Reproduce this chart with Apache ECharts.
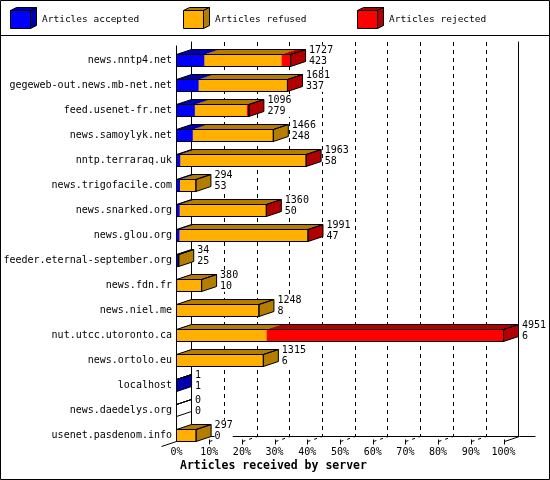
<!DOCTYPE html>
<html>
<head>
<meta charset="utf-8">
<title>Articles received by server</title>
<script src="https://cdn.jsdelivr.net/npm/echarts@6/dist/echarts.min.js"></script>
<style>
  html, body { margin: 0; padding: 0; background: #fff; }
  #chart-container { width: 550px; height: 480px; }
</style>
</head>
<body>
<div id="chart-container"></div>
<script>
// servers, top to bottom
var servers = [
  "news.nntp4.net",
  "gegeweb-out.news.mb-net.net",
  "feed.usenet-fr.net",
  "news.samoylyk.net",
  "nntp.terraraq.uk",
  "news.trigofacile.com",
  "news.snarked.org",
  "news.glou.org",
  "feeder.eternal-september.org",
  "news.fdn.fr",
  "news.niel.me",
  "nut.utcc.utoronto.ca",
  "news.ortolo.eu",
  "localhost",
  "news.daedelys.org",
  "usenet.pasdenom.info"
];
var totals = [1727, 1681, 1096, 1466, 1963, 294, 1360, 1991, 34, 380, 1248, 4951, 1315, 1, 0, 297];
var accepted = [423, 337, 279, 248, 58, 53, 50, 47, 25, 10, 8, 6, 6, 1, 0, 0];
// rejected counts estimated from the red part of each bar
var rejected = [135, 12, 30, 0, 3, 0, 3, 3, 0, 0, 0, 3586, 0, 0, 0, 0];
var refused = totals.map(function (t, i) { return t - accepted[i] - rejected[i]; });
var percentTicks = [0, 10, 20, 30, 40, 50, 60, 70, 80, 90, 100];

var FONT = "DejaVu Sans Mono";
var DX = 15, DY = 5; // depth of the 3d boxes
var COLORS = {
  accepted: ["#0000ff", "#0000b0"],
  refused: ["#ffb000", "#b47d00"],
  rejected: ["#ff0000", "#b00000"]
};

var maxTotal = Math.max.apply(null, totals);
function pct(v) { return v / maxTotal * 100; }

function barHeight(api) { return Math.round(api.size([0, 1])[1] * 0.48); }

function boxFaces(x0, x1, y, h) {
  var yt = y - h / 2, yb = y + h / 2;
  return {
    front: [[x0, yt], [x1, yt], [x1, yb], [x0, yb]],
    top: [[x0, yt], [x1, yt], [x1 + DX, yt - DY], [x0 + DX, yt - DY]],
    side: [[x1, yt], [x1, yb], [x1 + DX, yb - DY], [x1 + DX, yt - DY]]
  };
}

function segmentSeries(name, starts, values, colors) {
  var data = [];
  values.forEach(function (v, i) {
    if (v > 0) data.push([pct(starts[i]), pct(starts[i] + v), i]);
  });
  return {
    name: name,
    type: "custom",
    xAxisIndex: 0,
    yAxisIndex: 0,
    encode: { x: [0, 1], y: 2 },
    data: data,
    renderItem: function (params, api) {
      var a = api.coord([api.value(0), api.value(2)]);
      var b = api.coord([api.value(1), api.value(2)]);
      var f = boxFaces(a[0], b[0], a[1], barHeight(api));
      return {
        type: "group",
        children: [
          { type: "polygon", shape: { points: f.top }, style: { fill: colors[1] } },
          { type: "polygon", shape: { points: f.side }, style: { fill: colors[1] } },
          { type: "polygon", shape: { points: f.front }, style: { fill: colors[0] } }
        ]
      };
    }
  };
}

var zeros = servers.map(function () { return 0; });
var afterAccepted = accepted.slice();
var afterRefused = accepted.map(function (a, i) { return a + refused[i]; });

var labelData = totals.map(function (t, i) { return [pct(t), i, t, accepted[i]]; });

var chartDom = document.getElementById("chart-container");
var myChart = echarts.init(chartDom);

var option = {
  animation: false,
  backgroundColor: "#fff",
  title: {
    text: "Articles received by server",
    left: 180,
    top: 460,
    padding: 0,
    textStyle: { fontFamily: FONT, fontWeight: "bold", fontSize: 11.5, color: "#000" }
  },
  grid: [
    { left: 176.5, right: 46.5, top: 48, bottom: 32 },
    { left: 191.5, right: 31.5, top: 42, bottom: 43.5 }
  ],
  xAxis: [
    {
      gridIndex: 0,
      type: "value",
      min: 0,
      max: 100,
      interval: 10,
      axisLine: { show: false },
      axisTick: { show: false },
      splitLine: { show: false },
      axisLabel: {
        margin: -1,
        formatter: "{value}%",
        fontFamily: FONT,
        fontSize: 10,
        color: "#000"
      }
    },
    {
      gridIndex: 1,
      type: "value",
      min: 0,
      max: 100,
      interval: 10,
      axisLine: { show: true, lineStyle: { color: "#000", width: 1 } },
      axisTick: { show: false },
      axisLabel: { show: false },
      splitLine: { show: true, lineStyle: { color: "#000", width: 1, type: [4, 4] } }
    }
  ],
  yAxis: [
    {
      gridIndex: 0,
      type: "category",
      data: servers,
      inverse: true,
      axisLine: { show: false },
      axisTick: { show: false },
      axisLabel: { margin: 4.5, fontFamily: FONT, fontSize: 10, color: "#000" }
    },
    {
      gridIndex: 1,
      type: "value",
      min: 0,
      max: 1,
      axisLine: { show: true, lineStyle: { color: "#000", width: 1 } },
      axisTick: { show: false },
      axisLabel: { show: false },
      splitLine: { show: false }
    },
    {
      gridIndex: 1,
      type: "value",
      position: "right",
      min: 0,
      max: 1,
      axisLine: { show: true, lineStyle: { color: "#000", width: 1 } },
      axisTick: { show: false },
      axisLabel: { show: false },
      splitLine: { show: false }
    }
  ],
  series: [
    segmentSeries("Articles accepted", zeros, accepted, COLORS.accepted),
    segmentSeries("Articles refused", afterAccepted, refused, COLORS.refused),
    segmentSeries("Articles rejected", afterRefused, rejected, COLORS.rejected),
    {
      name: "totals",
      type: "custom",
      xAxisIndex: 0,
      yAxisIndex: 0,
      encode: { x: 0, y: 1 },
      data: labelData,
      renderItem: function (params, api) {
        var a = api.coord([0, api.value(1)]);
        var b = api.coord([api.value(0), api.value(1)]);
        var f = boxFaces(a[0], b[0], a[1], barHeight(api));
        var line = { fill: "none", stroke: "#000", lineWidth: 1 };
        return {
          type: "group",
          children: [
            { type: "polygon", shape: { points: f.top }, style: line },
            { type: "polygon", shape: { points: f.side }, style: line },
            { type: "polygon", shape: { points: f.front }, style: line },
            {
              type: "text",
              x: b[0] + DX + 3.5,
              y: a[1] - 4.7,
              style: {
                text: api.value(2) + "\n" + api.value(3),
                fontFamily: FONT,
                fontSize: 10,
                lineHeight: 11,
                fill: "#000",
                verticalAlign: "middle",
                backgroundColor: "#fff"
              }
            }
          ]
        };
      }
    }
  ]
};

option && myChart.setOption(option);

// frame, legend cubes and floor of the 3d box
function legendCube(x, label, colors) {
  var x0 = x + 0.5, x1 = x0 + 20, yt = 10.5, yb = 28.5, d = 6, e = 3;
  var s = { stroke: "#000", lineWidth: 1 };
  return [
    { type: "polygon", shape: { points: [[x0, yt], [x1, yt], [x1 + d, yt - e], [x0 + d, yt - e]] }, style: Object.assign({ fill: colors[1] }, s) },
    { type: "polygon", shape: { points: [[x1, yt], [x1, yb], [x1 + d, yb - e], [x1 + d, yt - e]] }, style: Object.assign({ fill: colors[1] }, s) },
    { type: "rect", shape: { x: x0, y: yt, width: 20, height: 18 }, style: Object.assign({ fill: colors[0] }, s) },
    { type: "text", x: x + 32, y: 20, style: { text: label, fontFamily: FONT, fontSize: 9.5, fill: "#000", verticalAlign: "middle" } }
  ];
}

function drawDecor() {
  var last = servers.length - 1;
  var p0 = myChart.convertToPixel({ xAxisIndex: 0, yAxisIndex: 0 }, [0, last]);
  var floorY = p0[1] + 6;
  var first = myChart.convertToPixel({ xAxisIndex: 0, yAxisIndex: 0 }, [0, 0]);
  var ln = { stroke: "#000", lineWidth: 1 };
  var els = [
    { type: "rect", shape: { x: 0.5, y: 0.5, width: 549, height: 479 }, style: { fill: "none", stroke: "#000", lineWidth: 1 } },
    { type: "line", shape: { x1: 0, y1: 35.5, x2: 550, y2: 35.5 }, style: ln },
    { type: "line", shape: { x1: p0[0], y1: first[1] - 15, x2: p0[0], y2: floorY }, style: ln },
    { type: "line", shape: { x1: p0[0] - DX, y1: floorY + DY, x2: p0[0] + DX, y2: floorY - DY }, style: ln }
  ];
  percentTicks.forEach(function (t) {
    var x = myChart.convertToPixel({ xAxisIndex: 0, yAxisIndex: 0 }, [t, last])[0];
    x = Math.round(x) + 0.5;
    if (t === 0) return;
    els.push({ type: "line", shape: { x1: x, y1: floorY - 2, x2: x, y2: floorY + 3 }, style: ln });
    if (t === 100) {
      els.push({ type: "line", shape: { x1: x, y1: floorY, x2: x + DX, y2: floorY - DY }, style: ln });
      els.push({ type: "line", shape: { x1: x + DX, y1: floorY - DY, x2: x + DX + 16, y2: floorY - DY }, style: ln });
    } else {
      els.push({ type: "line", shape: { x1: x, y1: floorY, x2: x + DX, y2: floorY - DY }, style: { stroke: "#000", lineWidth: 1, lineDash: [3, 4] } });
    }
  });
  els = els.concat(
    legendCube(10, "Articles accepted", COLORS.accepted),
    legendCube(183, "Articles refused", COLORS.refused),
    legendCube(357, "Articles rejected", COLORS.rejected)
  );
  myChart.setOption({ graphic: { elements: els } });
}

drawDecor();

window.addEventListener("resize", function () {
  myChart.resize();
  drawDecor();
});
</script>
</body>
</html>
